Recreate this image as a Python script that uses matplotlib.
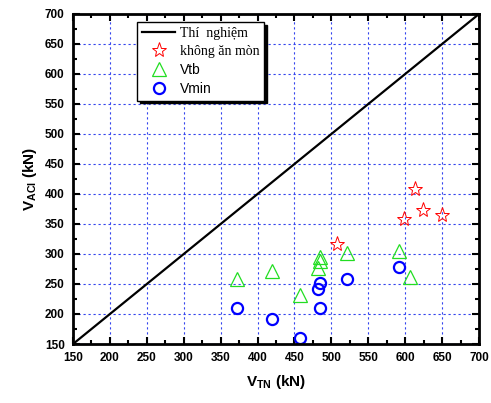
import matplotlib.pyplot as plt
import numpy as np
from matplotlib.ticker import MultipleLocator

# data
line_x = [150, 700]
line_y = [150, 700]

star_x = [508, 598, 613, 624, 650]
star_y = [317, 358, 408, 373, 365]

tri_x = [372, 419, 458, 482, 484, 485, 521, 592, 606]
tri_y = [259, 272, 232, 277, 289, 295, 302, 305, 261]

circ_x = [372, 419, 458, 482, 485, 485, 521, 592]
circ_y = [210, 191, 160, 242, 251, 210, 258, 278]

fig = plt.figure(figsize=(4.91, 4.03), dpi=100)
ax = fig.add_axes([0.1487, 0.1464, 0.8269, 0.8189])

ax.plot(line_x, line_y, color='black', lw=1.6, label='Thí  nghiệm')
ax.plot(star_x, star_y, ls='none', marker='*', ms=11, mfc='none', mec='red', mew=0.7,
        label='không ăn mòn')
ax.plot(tri_x, tri_y, ls='none', marker='^', ms=10, mfc='none', mec='#22dd22', mew=0.9,
        label='Vtb')
ax.plot(circ_x, circ_y, ls='none', marker='o', ms=8, mfc='none', mec='blue', mew=1.6,
        label='Vmin')

ax.set_xlim(150, 700)
ax.set_ylim(150, 700)
ax.xaxis.set_major_locator(MultipleLocator(50))
ax.yaxis.set_major_locator(MultipleLocator(50))
ax.xaxis.set_minor_locator(MultipleLocator(25))
ax.yaxis.set_minor_locator(MultipleLocator(25))
ax.tick_params(which='both', direction='in', top=True, right=True, width=1.5)
ax.tick_params(which='major', length=5, labelsize=8.5, pad=6)
ax.tick_params(which='minor', length=3)
for lab in ax.get_xticklabels() + ax.get_yticklabels():
    lab.set_fontweight('bold')
    lab.set_fontfamily('Liberation Sans')
for s in ax.spines.values():
    s.set_linewidth(2)

ax.grid(True, which='major', color='#3344ee', ls=(0, (2, 2.5)), lw=0.8)

ax.set_xlabel('V$_{\\mathregular{TN}}$ (kN)', fontsize=11, fontweight='bold',
              family='Liberation Sans', labelpad=6)
ax.set_ylabel('V$_{\\mathregular{ACI}}$ (kN)', fontsize=11, fontweight='bold',
              family='Liberation Sans', labelpad=4)

leg = ax.legend(loc='upper left', bbox_to_anchor=(0.158, 0.975), borderaxespad=0,
                fancybox=False, shadow={'color': 'black', 'alpha': 1}, framealpha=1,
                edgecolor='black', fontsize=10, handlelength=2.4, handletextpad=0.3,
                borderpad=0.35, labelspacing=0.35)
leg.get_frame().set_linewidth(1.0)
texts = leg.get_texts()
texts[0].set_family('Liberation Serif')
texts[1].set_family('Liberation Serif')
texts[2].set_family('Liberation Sans')
texts[3].set_family('Liberation Sans')

fig.savefig('out.png', dpi=100)
